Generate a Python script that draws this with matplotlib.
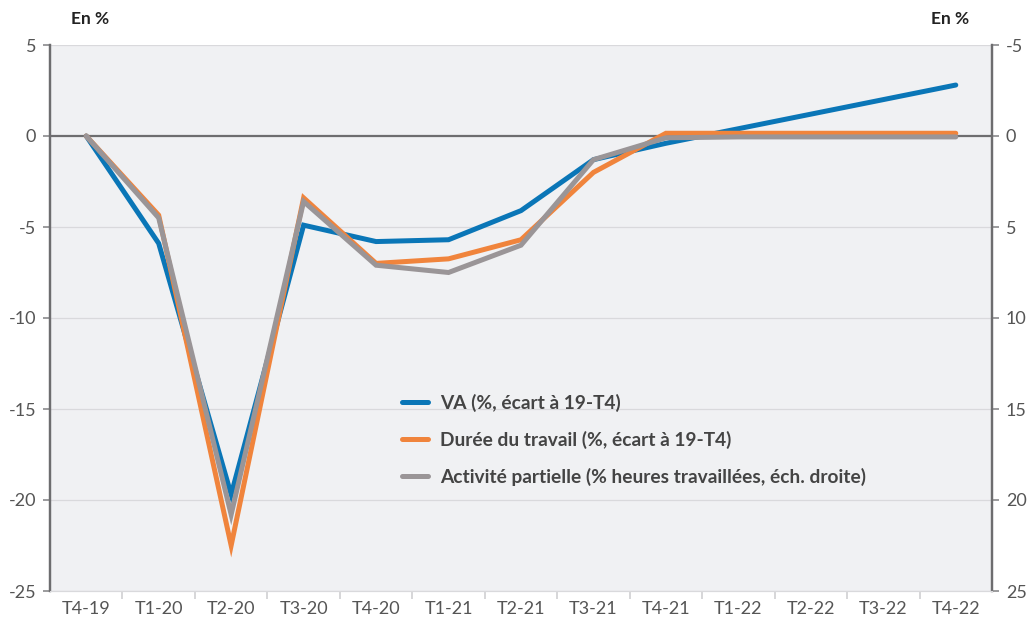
import numpy as np
import matplotlib.pyplot as plt

plt.rcParams['font.family'] = ['Lato', 'DejaVu Sans']
plt.rcParams['axes.unicode_minus'] = False

quarters = ["T4-19", "T1-20", "T2-20", "T3-20", "T4-20", "T1-21", "T2-21",
            "T3-21", "T4-21", "T1-22", "T2-22", "T3-22", "T4-22"]
va = [0, -5.9, -19.7, -4.9, -5.8, -5.7, -4.1, -1.3, -0.4, 0.4, 1.2, 2.0, 2.8]
duree = [0, -4.35, -22.5, -3.4, -7.0, -6.75, -5.7, -2.0, 0.15, 0.15, 0.15, 0.15, 0.15]
activite = [0, 4.5, 20.8, 3.6, 7.1, 7.5, 6.0, 1.3, 0.1, 0.05, 0.05, 0.05, 0.05]

blue = "#0a76b7"
orange = "#f0843c"
grey = "#9a9597"
bg = "#f0f1f3"
txt = "#555555"

x = np.arange(len(quarters))

fig = plt.figure(figsize=(10.28, 6.17), dpi=100)
ax1 = fig.add_axes([50/1028, 26/617, 942/1028, 546/617])
ax1.set_facecolor(bg)

ax1.set_xlim(-0.5, len(quarters) - 0.5)
ax1.set_ylim(-25, 5)
ax1.set_yticks(np.arange(-25, 6, 5))
for v in np.arange(-25, 6, 5):
    if v != 0:
        ax1.axhline(v, color="#d9d9dc", lw=0.9, zorder=1)
ax1.axhline(0, color="#6d6d6f", lw=1.6, zorder=2)

l1, = ax1.plot(x, va, color=blue, lw=3.6, solid_capstyle="round",
               solid_joinstyle="miter", zorder=3, label="VA (%, écart à 19-T4)")
l2, = ax1.plot(x, duree, color=orange, lw=3.6, solid_capstyle="round",
               solid_joinstyle="miter", zorder=4, label="Durée du travail (%, écart à 19-T4)")

ax2 = ax1.twinx()
ax2.set_ylim(25, -5)
ax2.set_yticks(np.arange(-5, 26, 5))
l3, = ax2.plot(x, activite, color=grey, lw=3.6, solid_capstyle="round",
               solid_joinstyle="miter", zorder=5,
               label="Activité partielle (% heures travaillées, éch. droite)")

ax1.set_xticks(x)
ax1.set_xticklabels(quarters)
ax1.set_xticks(np.arange(0.5, len(quarters) - 1, 1), minor=True)
ax1.tick_params(axis="x", which="major", length=0, pad=7, labelsize=13, labelcolor=txt)
ax1.tick_params(axis="x", which="minor", length=6, width=1.2, color="#cfcfd2")
ax1.tick_params(axis="y", length=5, width=1.2, color="#8a8a8c", labelsize=13,
                labelcolor=txt, pad=5)
ax2.tick_params(axis="y", length=5, width=1.2, color="#8a8a8c", labelsize=13,
                labelcolor=txt, pad=5)

for a in (ax1, ax2):
    a.spines["top"].set_visible(False)
    a.spines["bottom"].set_color("#d9d9dc")
    a.spines["left"].set_color("#6d6d6f")
    a.spines["right"].set_color("#6d6d6f")
    a.spines["left"].set_linewidth(1.6)
    a.spines["right"].set_linewidth(1.6)

fig.text(90/1028, 1 - 19/617, "En %", ha="center", va="center",
         fontsize=12.5, fontweight="bold", color="#222222")
fig.text(950/1028, 1 - 19/617, "En %", ha="center", va="center",
         fontsize=12.5, fontweight="bold", color="#222222")

leg = ax1.legend(handles=[l1, l2, l3], loc="center left",
                 bbox_to_anchor=((402 - 50) / 942, (591 - 440) / 546),
                 frameon=False, borderaxespad=0, borderpad=0,
                 handlelength=1.35, handletextpad=0.65, labelspacing=0.98,
                 prop={"weight": "bold", "size": 13.8})
for t in leg.get_texts():
    t.set_color("#444444")
for h in leg.legend_handles:
    h.set_linewidth(3.6)

fig.savefig("out.png", dpi=100)
